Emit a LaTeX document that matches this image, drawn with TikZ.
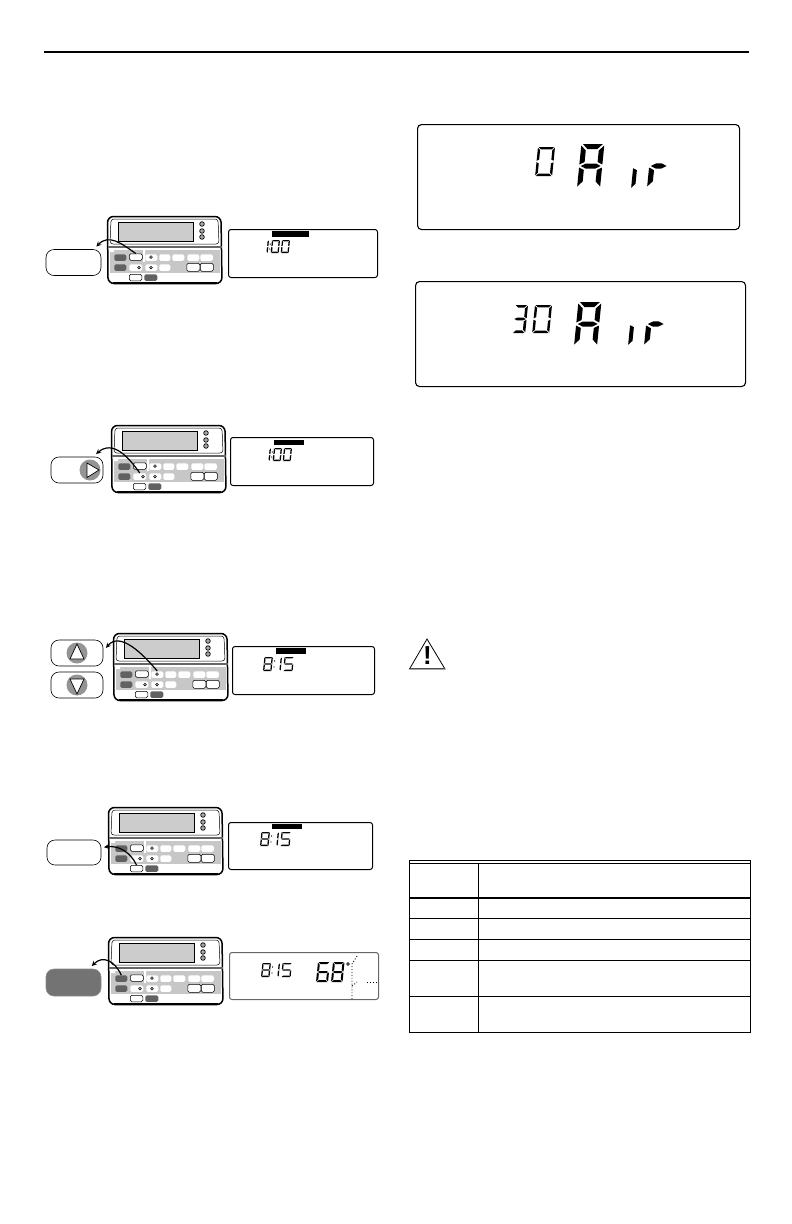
\documentclass[tikz,border=0pt]{standalone}
\usepackage{amsmath}
\usepackage{fontspec}
\newfontfamily\warnfont{Liberation Sans}
\usetikzlibrary{arrows}

\tikzset{
  statkey/.style={draw=black,line width=0.5pt,fill=white,rounded corners=1.5pt,inner sep=0pt,minimum height=6.5pt,anchor=north west},
  statdark/.style={statkey,draw=none,fill=black!62},
  statplain/.style={statkey,draw=none},
  softkey/.style={draw=black,line width=0.6pt,fill=white,rounded corners=8pt,inner sep=0pt,outer sep=3pt,minimum width=55pt,minimum height=26pt},
  keydisc/.style={circle,fill=black!42,inner sep=0pt,minimum size=21pt},
  keymark/.style={draw=black,line width=0.7pt,fill=white},
  lcdbox/.style={draw=black,line width=1pt,fill=white,rounded corners=2.5pt,inner sep=0pt,anchor=north west},
  lcdbar/.style={fill=black,inner sep=0pt,anchor=north west},
  lcdink/.style={fill=black},
  rule/.style={line width=1pt},
}

\newcommand{\lcdsa}{\fill[lcdink] (\segg,0) -- ({\segw-\segg},0) -- ({\segw-\segg-\segt},\segt) -- ({\segg+\segt},\segt) -- cycle;}
\newcommand{\lcdsb}{\fill[lcdink] (\segw,\segg) -- ({\segw-\segt},{\segg+\segt}) -- ({\segw-\segt},{\segh/2-\segg-\segt/2}) -- (\segw,{\segh/2-\segg}) -- cycle;}
\newcommand{\lcdsc}{\fill[lcdink] (\segw,{\segh/2+\segg}) -- ({\segw-\segt},{\segh/2+\segg+\segt/2}) -- ({\segw-\segt},{\segh-\segg-\segt}) -- (\segw,{\segh-\segg}) -- cycle;}
\newcommand{\lcdsd}{\fill[lcdink] (\segg,\segh) -- ({\segw-\segg},\segh) -- ({\segw-\segg-\segt},{\segh-\segt}) -- ({\segg+\segt},{\segh-\segt}) -- cycle;}
\newcommand{\lcdse}{\fill[lcdink] (0,{\segh/2+\segg}) -- (\segt,{\segh/2+\segg+\segt/2}) -- (\segt,{\segh-\segg-\segt}) -- (0,{\segh-\segg}) -- cycle;}
\newcommand{\lcdsf}{\fill[lcdink] (0,\segg) -- (\segt,{\segg+\segt}) -- (\segt,{\segh/2-\segg-\segt/2}) -- (0,{\segh/2-\segg}) -- cycle;}
\newcommand{\lcdsg}{\fill[lcdink] (\segg,{\segh/2}) -- ({\segg+\segt},{\segh/2-\segt/2}) -- ({\segw-\segg-\segt},{\segh/2-\segt/2}) -- ({\segw-\segg},{\segh/2}) -- ({\segw-\segg-\segt},{\segh/2+\segt/2}) -- ({\segg+\segt},{\segh/2+\segt/2}) -- cycle;}

% x, y, width, height, thickness, segments
\newcommand{\lcddigit}[6]{
  \begin{scope}[shift={(#1,#2)},xslant=0.1]
    \def\segw{#3}\def\segh{#4}\def\segt{#5}
    \pgfmathsetmacro{\segg}{0.3*#5}
    \foreach \s in {#6} {\csname lcds\s\endcsname}
  \end{scope}
}

\newcommand{\clockone}[2]{
  \lcddigit{#1+1}{#2}{3}{13}{1.3}{b,c}
  \fill (#1+5.3,#2+4) circle (0.7) (#1+4.8,#2+9) circle (0.7);
  \lcddigit{#1+7}{#2}{8}{13}{1.3}{a,b,c,d,e,f}
  \lcddigit{#1+17}{#2}{8}{13}{1.3}{a,b,c,d,e,f}
}
\newcommand{\clocktwo}[2]{
  \lcddigit{#1+1.4}{#2}{8.5}{14}{1.3}{a,b,c,d,e,f,g}
  \fill (#1+11.6,#2+4) circle (0.7) (#1+11,#2+10) circle (0.7);
  \lcddigit{#1+15.5}{#2}{3.5}{14}{1.3}{b,c}
  \lcddigit{#1+21.5}{#2}{9.5}{14}{1.3}{a,f,g,c,d}
}

\newcommand{\thermostat}[3]{
  \begin{scope}[shift={(#2,#3)}]
    \draw[line width=1.5pt,rounded corners=6pt,fill=white] (0.5,0.5) -- (114,0.5) -- (115,67.5) -- (1,67.5) -- cycle;
    \draw[line width=0.5pt,rounded corners=3pt] (4,3) -- (111,3) -- (112,28) -- (3,28) -- cycle;
    \fill[black!60] (1,29.5) rectangle (115,32);
    \draw[line width=1pt] (6,66.5) -- (110,66.5);
    \fill[black!22] (3,34) rectangle (113,57);
    \fill[white] (3,34) rectangle (7,36) (36,34) rectangle (38,46);
    \fill[white] (3,57) rectangle (113,63);
    \node[draw=black,line width=0.4pt,fill=black!20,inner sep=0pt,minimum width=75pt,minimum height=18.5pt,anchor=north west] (#1-lcd) at (11,6) {};
    \foreach \iy in {8,15,21}
      \draw[line width=0.7pt,fill=black!35] (95,\iy) circle (2.3);
    \node[statdark,minimum width=12pt] (#1-d1) at (7,38) {};
    \node[statkey,minimum width=13pt] (#1-k1) at (22,37.5) {};
    \node[statplain,minimum width=12pt] (#1-k2) at (38,38) {};
    \node[statplain,minimum width=11pt] (#1-k3) at (52,38) {};
    \node[statplain,minimum width=12pt] (#1-k4) at (65,38) {};
    \node[statplain,minimum width=12pt] (#1-k5) at (80,38) {};
    \node[statplain,minimum width=12.5pt] (#1-k6) at (93,38) {};
    \node[statdark,minimum width=12pt] (#1-d2) at (7,48) {};
    \node[statplain,minimum width=13pt] (#1-r1) at (22,48) {};
    \node[statplain,minimum width=12pt] (#1-r2) at (38,48) {};
    \node[statplain,minimum width=11pt] (#1-r3) at (52,48) {};
    \node[statkey,minimum width=13pt,minimum height=8pt] (#1-r4) at (79.5,47) {};
    \node[statkey,minimum width=13pt,minimum height=8pt] (#1-r5) at (93,47) {};
    \node[statkey,minimum width=12.5pt] (#1-b1) at (22,58) {};
    \node[statdark,minimum width=13pt] (#1-b2) at (37,58) {};
    \foreach \ix/\iy in {44/41,32/51.5,44/51.5}
      \draw[line width=0.5pt,fill=black!30] (\ix,\iy) circle (1.4);
  \end{scope}
}

\begin{document}
\begin{tikzpicture}[x=1pt,y=-1pt]
  \useasboundingbox (0,0) rectangle (792,1224);
  \draw[line width=1.1pt] (44,52) -- (749,52);

  \thermostat{sa}{107}{216}
  \thermostat{sb}{111}{425}
  \thermostat{sc}{113}{633}
  \thermostat{sd}{108}{807}
  \thermostat{se}{108}{937}

  \node[softkey] (keya) at (73.5,262.5) {};
  \node[softkey,minimum width=52pt] (keyb) at (77,470) {};
  \node[softkey,minimum width=52pt] (keyup) at (77,653) {};
  \node[softkey,minimum width=52pt] (keydown) at (77,685) {};
  \node[softkey,minimum width=54pt,minimum height=25pt] (keyd) at (74,852.5) {};
  \node[softkey,draw=black!45,fill=black!55,minimum height=27pt] (keye) at (73.5,982.5) {};

  \node[keydisc] (discb) at (90,470) {};
  \node[keydisc] (discup) at (77,653) {};
  \node[keydisc] (discdown) at (77,685) {};
  \draw[keymark] (87,463) -- (87,477.5) -- (99,470) -- cycle;
  \draw[keymark] (77,644) -- (84,659) -- (70,659) -- cycle;
  \draw[keymark] (77,694) -- (84,679) -- (70,679) -- cycle;

  \path[-stealth,line width=1.2pt]
    (sa-k1.north) edge [out=145,in=45,looseness=1.15] (keya.35)
    (sb-r1.north) edge [out=125,in=40,looseness=1.15] (keyb.40)
    (sc-k2.north) edge [out=130,in=50,looseness=1] (keyup.10)
    (sd-b1.north) edge [out=115,in=8,looseness=1] (keyd.10)
    (se-d1.north) edge [out=115,in=45,looseness=1.3] (keye.42);

  \node[lcdbox,minimum width=149pt,minimum height=48pt] (dispa) at (228,229) {};
  \node[lcdbar,minimum width=37pt,minimum height=6pt] (bara) at (272,231) {};
  \clockone{265}{240}
  \node[lcdbox,minimum width=143pt,minimum height=48pt] (dispb) at (230,437) {};
  \node[lcdbar,minimum width=30pt,minimum height=5pt] (barb) at (274,440) {};
  \clockone{267}{448}
  \node[lcdbox,minimum width=142pt,minimum height=48pt] (dispc) at (232,646) {};
  \node[lcdbar,minimum width=30pt,minimum height=6pt] (barc) at (276,648) {};
  \clocktwo{263}{657}
  \node[lcdbox,minimum width=144pt,minimum height=47pt] (dispd) at (228,822) {};
  \node[lcdbar,minimum width=30pt,minimum height=5pt] (bard) at (272,824) {};
  \clocktwo{260}{832}

  \node[lcdbox,draw=black!60,minimum width=149pt,minimum height=47pt] (dispe) at (229,952) {};
  \clocktwo{261}{963}
  \lcddigit{318}{962}{12}{20}{2}{a,f,g,e,c,d}
  \lcddigit{333}{962}{11.5}{20}{2}{a,b,c,d,e,f,g}
  \draw[line width=0.7pt] (348,964) circle (1.4);
  \draw[line width=0.9pt,dotted] (352,999) -- (352,964) -- (357,956);
  \draw[line width=0.9pt,dotted] (352,986) -- (357,982);
  \draw[line width=0.9pt,dotted] (367,982) -- (378,982);

  \node[lcdbox,line width=1.1pt,rounded corners=4pt,minimum width=322pt,minimum height=105pt] (panelone) at (417,124) {};
  \lcddigit{538}{147}{17}{29}{2.4}{a,b,c,d,e,f}
  \lcddigit{581.4}{144}{23}{44}{5}{a,b,c,e,f,g}
  \lcddigit{635.4}{145}{4}{44}{4}{e}
  \lcddigit{651.4}{144}{19}{44}{5.2}{e,g}

  \node[lcdbox,line width=1.1pt,rounded corners=4pt,minimum width=330pt,minimum height=105pt] (paneltwo) at (415,281) {};
  \lcddigit{515}{305}{13}{28}{2.6}{a,b,c,d,g}
  \lcddigit{535}{305}{17}{28}{2.4}{a,b,c,d,e,f}
  \lcddigit{578.4}{302}{23}{44}{5}{a,b,c,e,f,g}
  \lcddigit{632.4}{302}{4}{44}{4}{e}
  \lcddigit{648.4}{302}{19}{44}{5.2}{e,g}

  \draw[line width=0.8pt,line join=miter] (427,639) -- (445,669) -- (409.5,669) -- cycle;
  \draw[line width=1.6pt,black!70] (409.5,668.5) -- (445,668.5);
  \node[inner sep=0pt,font=\warnfont\bfseries\fontsize{26}{26}\selectfont] (warn) at (427.5,656) {!};

  \draw[rule] (409.5,860.8) rectangle (750.5,1032);
  \draw[rule] (478,863.7) -- (478,1032);
  \draw[rule] (409.5,863.7) -- (750.5,863.7);
  \draw[line width=2pt] (409.5,897.7) -- (750.5,897.7);
  \foreach \ry in {918,939,960,996}
    \draw[rule] (409.5,\ry) -- (750.5,\ry);
\end{tikzpicture}
\end{document}
